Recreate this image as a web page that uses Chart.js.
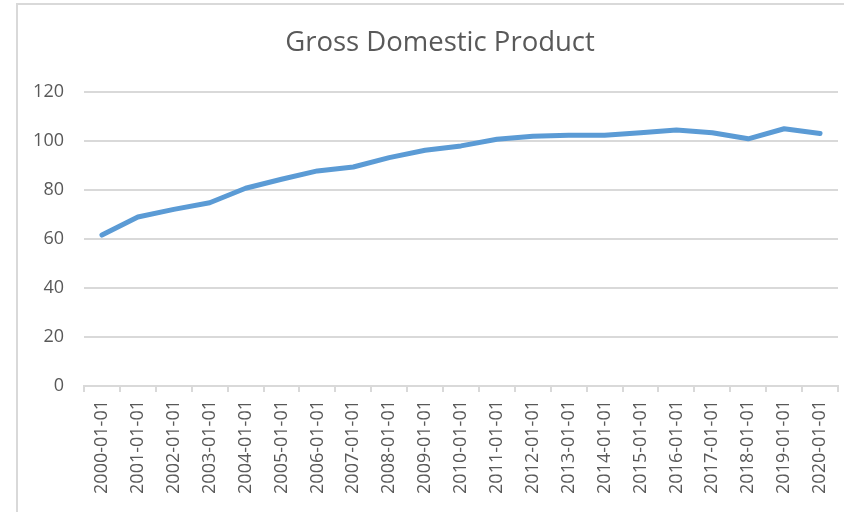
<!DOCTYPE html>
<html>
<head>
<meta charset="utf-8">
<script src="https://cdn.jsdelivr.net/npm/chart.js@4"></script>
<style>
  html, body { margin: 0; padding: 0; background: #ffffff; overflow: hidden; }
  #frame { position: absolute; left: 16px; top: 3px; width: 900px; height: 600px;
           border-left: 2px solid #d9d9d9; border-top: 2px solid #d9d9d9; }
  #wrap { position: absolute; left: 0; top: 0; width: 844px; height: 512px; }
</style>
</head>
<body>
<div id="frame"></div>
<div id="wrap"><canvas id="c" width="844" height="512"></canvas></div>
<script>
const chartTitle = "Gross Domestic Product";
const categories = [
  "2000-01-01", "2001-01-01", "2002-01-01", "2003-01-01", "2004-01-01",
  "2005-01-01", "2006-01-01", "2007-01-01", "2008-01-01", "2009-01-01",
  "2010-01-01", "2011-01-01", "2012-01-01", "2013-01-01", "2014-01-01",
  "2015-01-01", "2016-01-01", "2017-01-01", "2018-01-01", "2019-01-01",
  "2020-01-01"
];
const gdpValues = [
  61.6, 69.0, 72.1, 74.8, 80.7, 84.4, 87.8, 89.4, 93.2, 96.2,
  98.0, 100.7, 101.9, 102.3, 102.3, 103.4, 104.5, 103.4, 100.9, 105.0,
  103.1
];
const yMin = 0, yMax = 120, yStep = 20;

const textColor = "#595959";
const gridColor = "#d9d9d9";
const fontFamily = "'Open Sans', 'Liberation Sans', sans-serif";

// shifts the title box so it is centred on the framed chart rather than the canvas
const titleShift = {
  id: "titleShift",
  afterLayout(chart) {
    const t = chart.titleBlock;
    if (t) { t.left = t.left + 42; }
  }
};

new Chart(document.getElementById("c"), {
  type: "line",
  data: {
    labels: categories,
    datasets: [{
      label: "GDP",
      data: gdpValues,
      borderColor: "#5b9bd5",
      backgroundColor: "#5b9bd5",
      borderWidth: 5,
      pointRadius: 0,
      tension: 0,
      borderCapStyle: "round",
      borderJoinStyle: "round",
      fill: false
    }]
  },
  plugins: [titleShift],
  options: {
    responsive: false,
    animation: false,
    devicePixelRatio: 1,
    layout: { padding: { left: 0, right: 6, top: 0, bottom: 0 } },
    plugins: {
      legend: { display: false },
      tooltip: { enabled: false },
      title: {
        display: true,
        text: chartTitle,
        color: textColor,
        font: { family: fontFamily, size: 27.5, weight: "normal", lineHeight: 1.2 },
        padding: { top: 27, bottom: 32 }
      }
    },
    scales: {
      x: {
        offset: true,
        grid: {
          offset: true,
          drawOnChartArea: false,
          drawTicks: true,
          tickLength: 6,
          color: gridColor,
          lineWidth: 2
        },
        border: { display: true, color: gridColor, width: 2 },
        ticks: {
          color: textColor,
          font: { family: fontFamily, size: 18 },
          minRotation: 90,
          maxRotation: 90,
          padding: 8,
          autoSkip: false
        },
        afterFit: (scale) => {
          scale.height = 126;
          scale.paddingLeft = 0;
          scale.paddingRight = 0;
        }
      },
      y: {
        min: yMin,
        max: yMax,
        grid: { color: gridColor, lineWidth: 2, drawTicks: false },
        border: { display: false },
        ticks: {
          stepSize: yStep,
          color: textColor,
          font: { family: fontFamily, size: 18 },
          padding: 20
        },
        afterFit: (scale) => { scale.width = 84; }
      }
    }
  }
});
</script>
</body>
</html>
